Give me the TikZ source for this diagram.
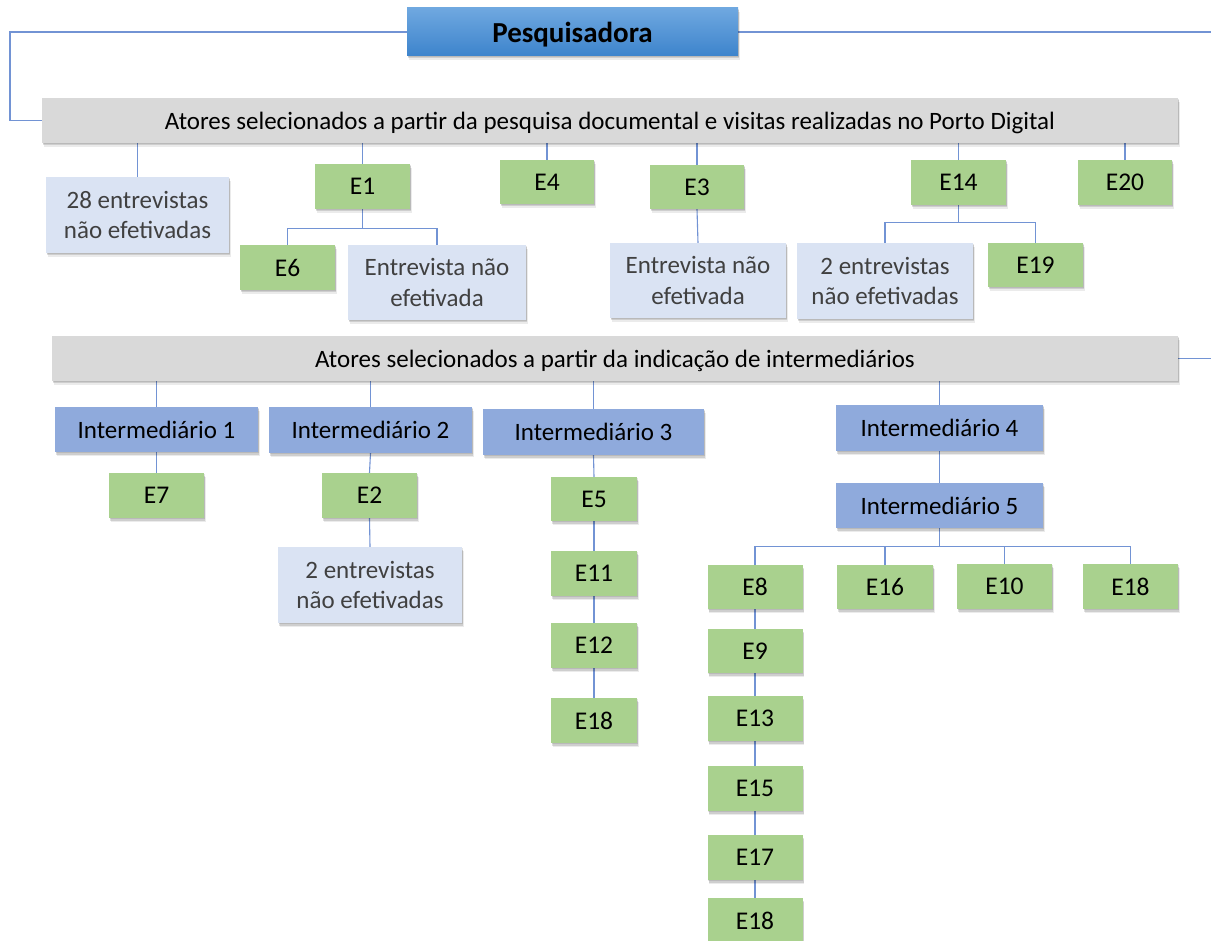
\documentclass[tikz,border=0pt]{standalone}
\usepackage{fontspec}
\setmainfont{Carlito}
\usetikzlibrary{shadows,backgrounds}

\definecolor{linkblue}{RGB}{114,147,212}
\definecolor{boxgreen}{RGB}{169,209,142}
\definecolor{boxpale}{RGB}{218,227,243}
\definecolor{boxinter}{RGB}{143,170,220}
\definecolor{boxgray}{RGB}{217,217,217}
\definecolor{headtop}{RGB}{111,168,224}
\definecolor{headbot}{RGB}{61,132,204}
\definecolor{paletext}{RGB}{64,64,64}

\pgfdeclarelayer{paper}
\pgfsetlayers{paper,background,main}

\tikzset{
  softshadow/.style={
    general shadow={fill=black, opacity=0.10, shadow xshift=0.5pt, shadow yshift=-1pt},
    general shadow={fill=black, opacity=0.12, shadow xshift=1pt, shadow yshift=-2.5pt},
    general shadow={fill=black, opacity=0.08, shadow xshift=1.5pt, shadow yshift=-4pt}},
  base/.style={inner sep=0pt, align=center, text depth=0pt, softshadow},
  ebox/.style={base, fill=boxgreen, minimum width=95pt, minimum height=45pt, font=\fontsize{25.5}{28}\selectfont},
  palebox/.style={base, fill=boxpale, text=paletext, font=\fontsize{25}{30.5}\selectfont},
  interbox/.style={base, fill=boxinter, minimum height=45pt, font=\fontsize{25}{28}\selectfont},
  groupbox/.style={base, fill=boxgray, minimum height=45pt, font=\fontsize{25}{28}\selectfont},
  headbox/.style={base, top color=headtop, bottom color=headbot, font=\bfseries\fontsize{29}{32}\selectfont},
  link/.style={draw=linkblue, line width=1.1pt}
}

\begin{document}
\begin{tikzpicture}[x=1pt, y=-1pt]
\clip (0,0) rectangle (1211,941);
\begin{pgfonlayer}{paper}
\fill[white] (0,0) rectangle (1211,941);
\end{pgfonlayer}

% head and first group
\node[headbox, minimum width=331pt, minimum height=48pt] (pes) at (572.5,32) {Pesquisadora};
\node[groupbox, minimum width=1136pt] (a1) at (610,120.5)
  {Atores selecionados a partir da pesquisa documental e visitas realizadas no Porto Digital};

\node[palebox, minimum width=183pt, minimum height=76pt] (n28) at (137.5,215) {28 entrevistas\\não efetivadas};
\node[ebox] (e1) at (362.5,186.5) {E1};
\node[ebox, minimum width=94pt, minimum height=44pt] (e4) at (547,182) {E4};
\node[ebox, minimum width=94pt, minimum height=44pt] (e3) at (697,187) {E3};
\node[ebox] (e14) at (958.5,182.5) {E14};
\node[ebox, minimum width=94pt] (e20) at (1125,182.5) {E20};

\node[ebox] (e6) at (287.5,267.5) {E6};
\node[palebox, minimum width=178pt, minimum height=75pt] (ne1) at (437,282.5) {Entrevista não\\efetivada};
\node[palebox, minimum width=176pt, minimum height=75pt] (ne3) at (698,280.5) {Entrevista não\\efetivada};
\node[palebox, minimum width=176pt, minimum height=76pt] (ne14) at (885,281) {2 entrevistas\\não efetivadas};
\node[ebox, minimum height=44pt] (e19) at (1035.5,265) {E19};

% second group
\node[groupbox, minimum width=1126pt] (a2) at (615,358.5)
  {Atores selecionados a partir da indicação de intermediários};

\node[interbox, minimum width=203pt] (i1) at (156.5,429.5) {Intermediário 1};
\node[interbox, minimum width=203pt, minimum height=46pt] (i2) at (370.5,430) {Intermediário 2};
\node[interbox, minimum width=221pt, minimum height=46pt] (i3) at (593.5,432) {Intermediário 3};
\node[interbox, minimum width=207pt, minimum height=46pt] (i4) at (939.5,428) {Intermediário 4};
\node[interbox, minimum width=207pt] (i5) at (939.5,505.5) {Intermediário 5};

\node[ebox] (e7) at (156.5,495.5) {E7};
\node[ebox] (e2) at (369.5,495.5) {E2};
\node[palebox, minimum width=184pt, minimum height=76pt] (ni2) at (370,585) {2 entrevistas\\não efetivadas};

\node[ebox, minimum width=86pt, minimum height=44pt] (e5) at (594,499) {E5};
\node[ebox, minimum width=86pt] (e11) at (594,573.5) {E11};
\node[ebox, minimum width=86pt] (e12) at (594,645.5) {E12};
\node[ebox, minimum width=86pt] (e18a) at (594,720.5) {E18};

\node[ebox, minimum height=44pt] (e8) at (755,587) {E8};
\node[ebox, minimum width=96pt, minimum height=44pt] (e16) at (885,587) {E16};
\node[ebox] (e10) at (1004.5,586.5) {E10};
\node[ebox] (e18b) at (1130.5,586.5) {E18};

\node[ebox, minimum height=44pt] (e9) at (755,651) {E9};
\node[ebox] (e13) at (755,718.5) {E13};
\node[ebox] (e15) at (755,788.5) {E15};
\node[ebox] (e17) at (755,857.5) {E17};
\node[ebox] (e18c) at (755,920.5) {E18};

\begin{pgfonlayer}{background}
% side links from the head to both groups
\draw[link] (pes.west) -- (10,32) -- (10,120.5) -- (a1.west);
\draw[link] (pes.east) -- (1225,32) -- (1225,358.5) -- (a2.east);

% first group
\foreach \c in {n28,e1,e4,e3,e14,e20}
  \draw[link] (\c.north |- a1.south) -- (\c.north);
\draw[link] (e1.south) -- ++(0,19) -| (e6.north);
\draw[link] (e1.south) -- ++(0,19) -| (ne1.north);
\draw[link] (e3.south) -- (ne3.north);
\draw[link] (e14.south) -- ++(0,17) -| (ne14.north);
\draw[link] (e14.south) -- ++(0,17) -| (e19.north);

% second group
\foreach \c in {i1,i2,i3,i4}
  \draw[link] (\c.north |- a2.south) -- (\c.north);
\draw[link] (i1.south) -- (e7.north);
\draw[link] (i2.south) -- (e2.north);
\draw[link] (e2.south) -- (ni2.north);
\draw[link] (i3.south) -- (e5.north);
\draw[link] (e5.south) -- (e11.north);
\draw[link] (e11.south) -- (e12.north);
\draw[link] (e12.south) -- (e18a.north);
\draw[link] (i4.south) -- (i5.north);
\foreach \c in {e8,e16,e10,e18b}
  \draw[link] (i5.south) -- ++(0,18) -| (\c.north);
\draw[link] (e8.south) -- (e9.north);
\draw[link] (e9.south) -- (e13.north);
\draw[link] (e13.south) -- (e15.north);
\draw[link] (e15.south) -- (e17.north);
\draw[link] (e17.south) -- (e18c.north);
\end{pgfonlayer}
\end{tikzpicture}
\end{document}
